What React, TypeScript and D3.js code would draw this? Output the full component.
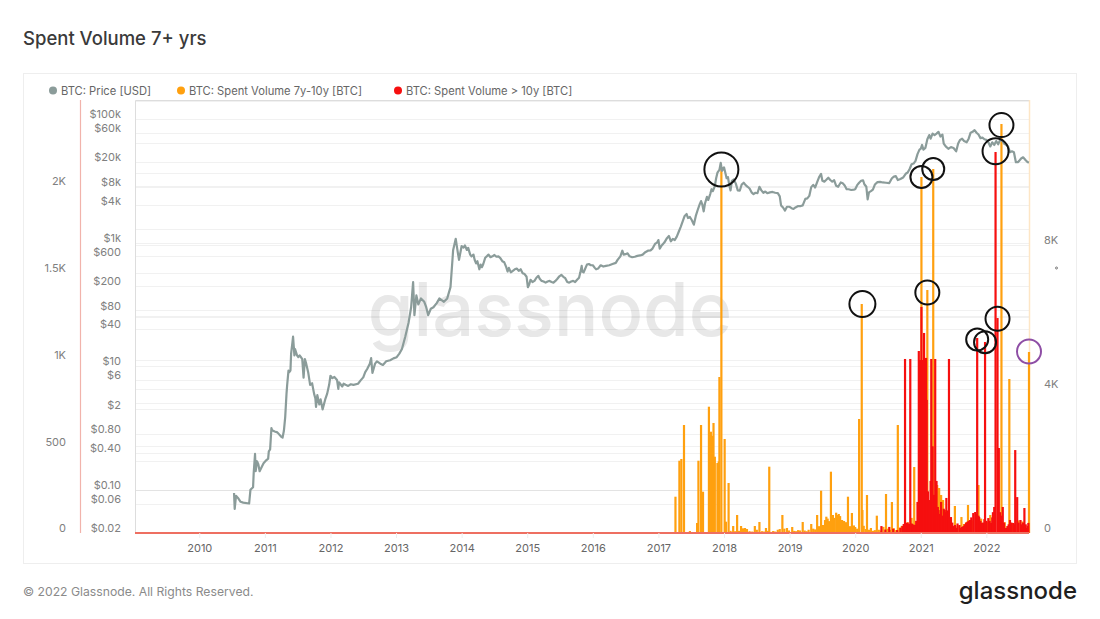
import * as d3 from "d3";
import React, { useEffect, useRef } from "react";

const FONT = "Inter, 'Noto Sans', sans-serif";

const yearTicks = d3.range(2010, 2023);
const priceTicks = [100000, 60000, 20000, 8000, 4000, 1000, 600, 200, 80, 40, 10, 6, 2, 0.8, 0.4, 0.1, 0.06, 0.02];
const leftTicks = [0, 500, 1000, 1500, 2000];
const rightTicks = [0, 4000, 8000];
const leftGrid = [250, 500, 750, 1000, 1250, 1500, 1750, 2000, 2250];
const rightGrid = [2000, 4000, 6000, 8000, 10000, 12000];

// BTC price [year, usd]
const priceEarly: [number, number][] = [
  [2010.53, 0.089], [2010.54, 0.049], [2010.56, 0.08], [2010.59, 0.074], [2010.63, 0.064], [2010.67, 0.062], [2010.76, 0.06],
  [2010.78, 0.1], [2010.82, 0.11], [2010.83, 0.19], [2010.85, 0.38], [2010.86, 0.2], [2010.88, 0.29], [2010.9, 0.26], [2010.92, 0.2],
  [2010.98, 0.27], [2011.02, 0.3], [2011.05, 0.32], [2011.06, 0.42], [2011.08, 0.45], [2011.1, 1.0], [2011.11, 0.92], [2011.15, 0.88],
  [2011.19, 0.85], [2011.25, 0.72], [2011.27, 0.7], [2011.29, 0.9], [2011.31, 1.5], [2011.33, 3.6], [2011.34, 5], [2011.36, 8.5],
  [2011.37, 8], [2011.39, 8.5], [2011.4, 16], [2011.42, 24], [2011.43, 30], [2011.45, 15], [2011.46, 19], [2011.49, 15], [2011.51, 14],
  [2011.53, 15], [2011.55, 14], [2011.57, 13], [2011.59, 6.5], [2011.61, 13], [2011.63, 11], [2011.66, 8], [2011.69, 5], [2011.72, 5.3],
  [2011.75, 3.6], [2011.77, 3], [2011.78, 2.2], [2011.8, 3.4], [2011.83, 2.4], [2011.85, 2.9], [2011.88, 2], [2011.92, 2.9], [2011.95, 3.6],
  [2011.98, 5], [2012.0, 7], [2012.03, 6.4], [2012.06, 6.7], [2012.1, 6], [2012.12, 4.3], [2012.13, 5.5], [2012.18, 4.7], [2012.2, 5.2],
  [2012.23, 5], [2012.27, 4.8], [2012.31, 5.1], [2012.35, 5], [2012.42, 5.2], [2012.46, 5.9], [2012.5, 6.6], [2012.53, 8], [2012.56, 9],
  [2012.6, 11], [2012.62, 13.5], [2012.64, 7.8], [2012.68, 11], [2012.71, 12], [2012.76, 11], [2012.8, 10.5], [2012.85, 12], [2012.91, 12.5],
  [2012.96, 13.4], [2013.01, 14], [2013.05, 16], [2013.09, 19], [2013.14, 30], [2013.19, 50], [2013.23, 90], [2013.26, 230], [2013.28, 67],
  [2013.31, 140], [2013.34, 100], [2013.38, 125], [2013.43, 110], [2013.46, 90], [2013.49, 67], [2013.53, 85], [2013.57, 90], [2013.62, 105],
  [2013.66, 125], [2013.73, 110], [2013.78, 125], [2013.83, 190], [2013.86, 525], [2013.87, 750], [2013.91, 1150], [2013.94, 710],
  [2013.96, 525],
];
const priceMiddle: [number, number][] = [
  [2014.0, 880], [2014.03, 830], [2014.05, 900], [2014.08, 760], [2014.1, 820], [2014.13, 640], [2014.15, 600], [2014.18, 640], [2014.2, 520],
  [2014.22, 460], [2014.24, 500], [2014.27, 370], [2014.29, 440], [2014.31, 400], [2014.33, 450], [2014.36, 570], [2014.39, 610], [2014.41, 640],
  [2014.44, 580], [2014.47, 600], [2014.5, 630], [2014.53, 590], [2014.56, 600], [2014.59, 560], [2014.62, 500], [2014.65, 480], [2014.68, 400],
  [2014.7, 340], [2014.72, 390], [2014.75, 330], [2014.78, 350], [2014.81, 370], [2014.84, 380], [2014.87, 350], [2014.9, 370], [2014.93, 320],
  [2014.96, 310], [2014.99, 280], [2015.01, 190], [2015.03, 210], [2015.05, 250], [2015.08, 230], [2015.11, 240], [2015.14, 270], [2015.17, 290],
  [2015.19, 260], [2015.22, 240], [2015.25, 235], [2015.28, 225], [2015.31, 235], [2015.34, 240], [2015.37, 230], [2015.4, 225], [2015.43, 240],
  [2015.46, 260], [2015.49, 285], [2015.52, 300], [2015.55, 280], [2015.58, 265], [2015.61, 230], [2015.64, 225], [2015.67, 235], [2015.7, 240],
  [2015.73, 230], [2015.76, 250], [2015.79, 270], [2015.81, 330], [2015.83, 420], [2015.84, 340], [2015.86, 330], [2015.88, 370], [2015.91, 440],
  [2015.94, 450], [2015.97, 430], [2016.0, 430], [2016.03, 390], [2016.05, 370], [2016.08, 380], [2016.12, 430], [2016.16, 410], [2016.2, 420],
  [2016.25, 430], [2016.3, 450], [2016.35, 470], [2016.38, 530], [2016.42, 600], [2016.45, 740], [2016.47, 640], [2016.5, 650], [2016.53, 670],
  [2016.56, 600], [2016.6, 580], [2016.64, 590], [2016.68, 610], [2016.72, 620], [2016.76, 640], [2016.8, 700], [2016.84, 740], [2016.88, 750],
  [2016.91, 800], [2016.95, 960], [2016.98, 1000], [2017.0, 1100], [2017.02, 800], [2017.05, 900], [2017.09, 1000], [2017.13, 1180], [2017.16, 1280],
  [2017.19, 1050], [2017.22, 1150], [2017.25, 1100], [2017.28, 1250], [2017.31, 1500], [2017.34, 1800], [2017.37, 2200], [2017.4, 2700],
  [2017.43, 2900], [2017.45, 2500], [2017.48, 2600], [2017.51, 2300], [2017.54, 1950], [2017.57, 2700], [2017.6, 3400], [2017.63, 4200],
  [2017.65, 4700], [2017.67, 4100], [2017.69, 3200], [2017.71, 4300], [2017.74, 5500], [2017.76, 4900], [2017.79, 6100], [2017.81, 7300],
  [2017.83, 6800], [2017.86, 8200], [2017.88, 11000], [2017.9, 13500], [2017.93, 15000], [2017.95, 19500], [2017.97, 14500],
];
const priceLate: [number, number][] = [
  [2018.0, 16500], [2018.02, 13500], [2018.04, 11000], [2018.06, 11500], [2018.08, 8500], [2018.1, 7000], [2018.12, 10000], [2018.15, 10500],
  [2018.18, 9000], [2018.21, 7000], [2018.24, 6900], [2018.27, 8700], [2018.3, 9300], [2018.33, 8500], [2018.36, 8000], [2018.39, 7500],
  [2018.42, 6500], [2018.45, 6100], [2018.48, 6400], [2018.51, 6300], [2018.54, 8000], [2018.57, 7000], [2018.6, 6400], [2018.63, 6700],
  [2018.66, 6300], [2018.7, 6500], [2018.74, 6600], [2018.78, 6400], [2018.82, 6300], [2018.85, 5600], [2018.87, 4000], [2018.9, 3700],
  [2018.93, 3300], [2018.96, 3800], [2019.0, 3800], [2019.03, 3600], [2019.06, 3500], [2019.09, 3700], [2019.13, 3900], [2019.17, 3900],
  [2019.2, 4000], [2019.24, 5100], [2019.27, 5200], [2019.3, 5700], [2019.33, 7900], [2019.36, 8600], [2019.39, 7800], [2019.42, 9500],
  [2019.45, 11500], [2019.48, 12900], [2019.5, 10000], [2019.53, 9700], [2019.56, 10400], [2019.59, 11200], [2019.62, 10300], [2019.65, 9700],
  [2019.68, 10200], [2019.71, 8300], [2019.74, 8000], [2019.78, 9400], [2019.81, 9100], [2019.84, 8400], [2019.87, 7300], [2019.9, 7300],
  [2019.94, 7100], [2019.98, 7200], [2020.0, 7300], [2020.03, 8500], [2020.06, 9300], [2020.09, 10000], [2020.12, 10200], [2020.14, 8800],
  [2020.17, 8000], [2020.19, 5000], [2020.21, 6500], [2020.24, 6800], [2020.27, 7200], [2020.3, 8700], [2020.34, 9500], [2020.38, 9600],
  [2020.42, 9400], [2020.47, 9300], [2020.52, 9200], [2020.56, 11000], [2020.59, 11700], [2020.62, 11900], [2020.65, 10300], [2020.69, 10700],
  [2020.73, 11300], [2020.77, 13000], [2020.8, 13600], [2020.83, 15500], [2020.86, 18500], [2020.89, 19000], [2020.92, 21000], [2020.95, 27000],
  [2020.98, 32000], [2021.0, 33000], [2021.02, 38000], [2021.04, 32000], [2021.07, 34000], [2021.1, 47000], [2021.13, 55000], [2021.15, 48000],
  [2021.18, 58000], [2021.21, 55000], [2021.24, 58000], [2021.27, 62000], [2021.3, 52000], [2021.33, 56000], [2021.35, 40000], [2021.38, 36000],
  [2021.42, 33000], [2021.46, 35000], [2021.5, 34000], [2021.54, 30000], [2021.57, 40000], [2021.6, 46000], [2021.63, 48000], [2021.66, 44000],
  [2021.7, 42000], [2021.73, 48000], [2021.76, 60000], [2021.79, 62000], [2021.82, 66000], [2021.85, 60000], [2021.88, 56000], [2021.91, 49000],
  [2021.94, 50000], [2021.97, 47000], [2022.0, 46000], [2022.03, 42000], [2022.06, 36000], [2022.09, 42000], [2022.12, 38000], [2022.15, 44000],
  [2022.18, 39000], [2022.21, 46000], [2022.24, 45000], [2022.27, 40000], [2022.3, 38000], [2022.33, 36000], [2022.36, 29000], [2022.39, 30000],
  [2022.42, 29000], [2022.45, 20000], [2022.48, 20000], [2022.5, 21000], [2022.53, 23000], [2022.56, 24000], [2022.6, 21500], [2022.63, 20000],
  [2022.65, 19800],
];

// Spent volume 7y-10y [year, btc], right axis
const orangeSpikes: [number, number][] = [
  [2017.26, 1008], [2017.32, 2008], [2017.35, 2056], [2017.39, 3000], [2017.48, 55], [2017.59, 278], [2017.61, 2008], [2017.65, 3000], [2017.68, 1147],
  [2017.77, 3508], [2017.79, 2700], [2017.8, 2814], [2017.82, 2700], [2017.84, 3056], [2017.86, 2119], [2017.9, 1944], [2017.92, 1990], [2017.93, 4333],
  [2017.96, 10167], [2018.01, 2611], [2018.03, 314], [2018.07, 1389], [2020.06, 3167], [2020.1, 6361], [2020.11, 639], [2020.18, 1056],
  [2020.47, 1083], [2020.56, 861], [2020.65, 3000], [2020.9, 1833], [2021.01, 9889], [2021.1, 6750], [2021.19, 10111],
  [2021.25, 1333], [2021.28, 1250], [2021.31, 1056], [2021.34, 917], [2021.37, 639], [2021.52, 750], [2021.62, 444], [2021.72, 778], [2021.88, 1333],
  [2022.23, 11361], [2022.35, 4278], [2022.65, 5028],
  [2018.69, 1842], [2018.89, 500], [2019.42, 500], [2019.48, 1175], [2019.63, 1703], [2019.89, 1008],
];
const orangeLow: [number, number][] = [
  [2018.1, 60], [2018.14, 194], [2018.17, 50], [2018.2, 500], [2018.23, 60], [2018.26, 194], [2018.29, 130], [2018.32, 139], [2018.35, 110], [2018.39, 50],
  [2018.43, 40], [2018.47, 194], [2018.5, 90], [2018.54, 306], [2018.58, 50], [2018.61, 40], [2018.64, 139], [2018.67, 60], [2018.72, 30], [2018.75, 55],
  [2018.78, 40], [2018.82, 90], [2018.85, 110], [2018.92, 120], [2018.96, 139], [2018.99, 70], [2019.04, 167], [2019.07, 60], [2019.1, 50], [2019.13, 80],
  [2019.16, 70], [2019.2, 306], [2019.23, 70], [2019.26, 50], [2019.29, 90], [2019.33, 250], [2019.36, 120], [2019.39, 100], [2019.45, 190], [2019.51, 222],
  [2019.54, 360], [2019.56, 453], [2019.58, 400], [2019.6, 330], [2019.66, 500], [2019.68, 420], [2019.71, 564], [2019.73, 500], [2019.75, 528], [2019.77, 470],
  [2019.8, 361], [2019.83, 333], [2019.86, 300], [2019.92, 190], [2019.95, 556], [2019.98, 210], [2020.0, 167], [2020.03, 120], [2020.13, 200], [2020.16, 110],
  [2020.21, 90], [2020.24, 139], [2020.27, 60], [2020.3, 80], [2020.33, 481], [2020.36, 90], [2020.39, 70], [2020.43, 170], [2020.5, 120], [2020.53, 90],
  [2020.59, 130], [2020.62, 80], [2020.68, 150], [2020.71, 200], [2020.8, 300], [2020.86, 420], [2021.42, 300], [2021.46, 400], [2021.56, 200],
  [2021.66, 250], [2021.69, 300], [2021.78, 350], [2021.92, 400], [2022.01, 300], [2022.06, 500], [2022.28, 300], [2022.39, 280], [2022.49, 350], [2022.55, 320],
];

// Spent volume > 10y [year, btc], left axis
const redSpikes: [number, number][] = [
  [2020.76, 1003], [2020.84, 1003], [2020.95, 179], [2020.97, 1049], [2020.99, 997], [2021.01, 1303], [2021.03, 997], [2021.05, 1153], [2021.08, 1009],
  [2021.09, 767], [2021.13, 190], [2021.16, 1003], [2021.18, 500], [2021.22, 1003], [2021.24, 300], [2021.27, 132], [2021.31, 179], [2021.36, 132], [2021.39, 202],
  [2021.43, 1003], [2021.86, 1124], [2021.98, 1101], [2022.12, 150], [2022.14, 2196], [2022.17, 1239], [2022.19, 490], [2022.25, 150],
  [2022.44, 478], [2022.47, 207], [2022.58, 144],
];
const redLow: [number, number][] = [
  [2020.4, 40], [2020.46, 20], [2020.52, 35], [2020.58, 25], [2020.64, 17], [2020.69, 30], [2020.72, 40], [2020.74, 52], [2020.78, 58], [2020.8, 60],
  [2020.82, 52], [2020.86, 55], [2020.87, 52], [2020.89, 48], [2020.91, 46], [2020.93, 70], [2021.07, 200], [2021.11, 240], [2021.15, 300], [2021.2, 220],
  [2021.26, 150], [2021.29, 110], [2021.33, 100], [2021.35, 140], [2021.38, 120], [2021.41, 130], [2021.45, 80], [2021.46, 92], [2021.48, 60], [2021.5, 40],
  [2021.52, 46], [2021.54, 30], [2021.56, 55], [2021.59, 46], [2021.61, 30], [2021.63, 35], [2021.65, 40], [2021.67, 50], [2021.69, 58], [2021.71, 65],
  [2021.73, 70], [2021.75, 75], [2021.77, 90], [2021.8, 115], [2021.83, 121], [2021.85, 110], [2021.88, 100], [2021.89, 92], [2021.91, 70], [2021.93, 58],
  [2021.95, 60], [2021.97, 80], [2022.0, 70], [2022.03, 86], [2022.05, 70], [2022.07, 58], [2022.09, 90], [2022.1, 120], [2022.21, 120], [2022.23, 100],
  [2022.27, 60], [2022.3, 29], [2022.32, 40], [2022.34, 50], [2022.36, 75], [2022.38, 60], [2022.41, 58], [2022.42, 50], [2022.49, 60], [2022.52, 75],
  [2022.54, 50], [2022.56, 60], [2022.6, 50], [2022.61, 29], [2022.63, 40], [2022.64, 58],
];

// Hand drawn circles around the tips of the spikes
const orangeCircleYears = [2017.96, 2020.11, 2021.01, 2021.1, 2021.19, 2022.23, 2022.65];
const orangeCircleValues = [10100, 6360, 9890, 6680, 10110, 11330, 5040];
const orangeCircleSizes = [17, 13, 11, 12, 11, 12, 12];
const orangeCircleStrokes = ["#111", "#111", "#111", "#111", "#111", "#111", "#8e4ea5"];
const redCircleYears = [2021.86, 2021.98, 2022.14, 2022.17];
const redCircleValues = [1115, 1100, 2200, 1235];
const redCircleSizes = [11, 11, 13, 12];

const legendNames = ["BTC: Price [USD]", "BTC: Spent Volume 7y-10y [BTC]", "BTC: Spent Volume > 10y [BTC]"];

const App: React.FC = () => {
  const ref = useRef<SVGSVGElement | null>(null);

  useEffect(() => {
    if (!ref.current) return;
    const svg = d3.select(ref.current);
    svg.selectAll("*").remove();

    const top = 100;
    const bottom = 533;
    const left = 135;
    const right = 1029;

    const x = d3.scaleLinear().domain([2009.02, 2022.65]).range([left, right]);
    const price = d3.scaleLog().domain([0.02, 100000]).range([bottom, 119]);
    const red = d3.scaleLinear().domain([0, 2500]).range([bottom, 99.25]);
    const orange = d3.scaleLinear().domain([0, 12000]).range([bottom, 101]);

    svg.style("font-family", FONT);

    // Card and page text
    svg.append("rect").attr("x", 23.5).attr("y", 73.5).attr("width", 1053).attr("height", 490)
      .attr("fill", "#fff").attr("stroke", "#eeeeee");
    svg.append("text").attr("x", 23).attr("y", 45).text("Spent Volume 7+ yrs")
      .attr("font-size", 18.5).attr("font-weight", 500).attr("fill", "#3a3a3a");
    svg.append("text").attr("x", 23).attr("y", 596).text("© 2022 Glassnode. All Rights Reserved.")
      .attr("font-size", 12.2).attr("fill", "#8a8a8a");
    svg.append("text").attr("x", 1077).attr("y", 599).attr("text-anchor", "end").text("glassnode")
      .attr("font-size", 24).attr("font-weight", 500).attr("fill", "#1f1f1f");

    // Watermark
    svg.append("text").attr("x", 550).attr("y", 336).attr("text-anchor", "middle").text("glassnode")
      .attr("font-size", 74).attr("font-weight", 500).attr("fill", "#e8e8e8");

    // Grid lines from all three axes
    const grid = svg.append("g").attr("stroke", "#000").attr("stroke-opacity", 0.055);
    const gridYs = [...priceTicks.map((d) => price(d)), ...leftGrid.map((d) => red(d)), ...rightGrid.map((d) => orange(d))];
    grid.selectAll("line").data(gridYs).join("line")
      .attr("x1", left).attr("x2", right)
      .attr("y1", (d) => Math.round(d) + 0.5).attr("y2", (d) => Math.round(d) + 0.5);

    // Plot frame
    svg.append("path").attr("d", `M${left + 0.5},${bottom}V${top + 0.5}H${right}`)
      .attr("fill", "none").attr("stroke", "#dddddd");
    svg.append("line").attr("x1", right + 0.5).attr("x2", right + 0.5).attr("y1", top).attr("y2", bottom)
      .attr("stroke", "#fde6c6").attr("stroke-width", 1.5);
    svg.append("line").attr("x1", 80.5).attr("x2", 80.5).attr("y1", top).attr("y2", bottom)
      .attr("stroke", "#f1b3ab").attr("stroke-width", 1.2);

    // Spent volume bars
    const barWidth = 2.2;
    svg.append("g").attr("fill", "#ffa00f").selectAll("rect").data([...orangeLow, ...orangeSpikes]).join("rect")
      .attr("x", (d) => x(d[0]) - barWidth / 2).attr("width", barWidth)
      .attr("y", (d) => orange(d[1]))
      .attr("height", (d) => bottom - orange(d[1]));
    svg.append("g").attr("fill", "#f60f0f").selectAll("rect").data([...redLow, ...redSpikes]).join("rect")
      .attr("x", (d) => x(d[0]) - barWidth / 2).attr("width", barWidth)
      .attr("y", (d) => red(d[1]))
      .attr("height", (d) => bottom - red(d[1]));

    // Red series sitting on zero
    svg.append("line").attr("x1", left).attr("x2", right).attr("y1", red(0)).attr("y2", red(0))
      .attr("stroke", "#ee6f61").attr("stroke-width", 2);

    // Price line
    const line = d3.line<[number, number]>().x((d) => x(d[0])).y((d) => price(d[1]));
    svg.append("path").datum([...priceEarly, ...priceMiddle, ...priceLate]).attr("d", line)
      .attr("fill", "none").attr("stroke", "#8b9c9a").attr("stroke-width", 2.2).attr("stroke-linejoin", "round");

    // Annotation circles
    const rings = svg.append("g").attr("fill", "none").attr("stroke-width", 2);
    rings.selectAll("circle.orange").data(orangeCircleYears).join("circle").attr("class", "orange")
      .attr("cx", (d) => x(d)).attr("cy", (_, i) => orange(orangeCircleValues[i]))
      .attr("r", (_, i) => orangeCircleSizes[i]).attr("stroke", (_, i) => orangeCircleStrokes[i]);
    rings.selectAll("circle.red").data(redCircleYears).join("circle").attr("class", "red")
      .attr("cx", (d) => x(d)).attr("cy", (_, i) => red(redCircleValues[i]))
      .attr("r", (_, i) => redCircleSizes[i]).attr("stroke", "#111");

    // Axes, the labels sit 5px above their grid line
    const styleAxis = (g: d3.Selection<SVGGElement, unknown, null, undefined>) => {
      g.select(".domain").remove();
      g.selectAll(".tick text").attr("dy", "-0.11em").attr("fill", "#808080").attr("font-size", 11).attr("font-family", FONT);
    };
    const priceLabel = (d: d3.NumberValue) => {
      const v = +d;
      if (v >= 1000) return `$${v / 1000}k`;
      if (v >= 1) return `$${v}`;
      return `$${v.toFixed(2)}`;
    };
    const kLabel = (d: d3.NumberValue) => (+d >= 1000 ? `${+d / 1000}K` : `${+d}`);

    svg.append("g").attr("transform", "translate(121,0)")
      .call(d3.axisLeft(price).tickValues(priceTicks).tickFormat(priceLabel).tickSize(0).tickPadding(0))
      .call(styleAxis);
    svg.append("g").attr("transform", "translate(66,0)")
      .call(d3.axisLeft(red).tickValues(leftTicks).tickFormat(kLabel).tickSize(0).tickPadding(0))
      .call(styleAxis);
    svg.append("g").attr("transform", "translate(1044,0)")
      .call(d3.axisRight(orange).tickValues(rightTicks).tickFormat(kLabel).tickSize(0).tickPadding(0))
      .call(styleAxis);
    const xAxis = svg.append("g").attr("transform", `translate(0,${bottom})`)
      .call(d3.axisBottom(x).tickValues(yearTicks).tickFormat(d3.format("d")).tickSize(5).tickPadding(6));
    xAxis.select(".domain").remove();
    xAxis.selectAll(".tick line").attr("stroke", "#eeeeee");
    xAxis.selectAll(".tick text").attr("fill", "#666").attr("font-size", 11).attr("font-family", FONT);

    // Legend
    const legendColors = ["#8b9c9a", "#ffa00f", "#f60f0f"];
    const legendX = [53, 181, 398];
    const legend = svg.append("g").selectAll("g").data(legendNames).join("g")
      .attr("transform", (_, i) => `translate(${legendX[i]},90.5)`);
    legend.append("circle").attr("r", 4).attr("fill", (_, i) => legendColors[i]);
    legend.append("text").attr("x", 8).attr("y", 4).text((d) => d).attr("font-size", 11.2).attr("fill", "#666");

    // Stray mark right of the chart
    svg.append("circle").attr("cx", 1056.5).attr("cy", 268).attr("r", 1).attr("fill", "none").attr("stroke", "#777");
  }, []);

  return (
    <svg ref={ref} width={1100} height={619} style={{ position: "absolute", left: 0, top: 0, background: "#fff" }} />
  );
};

export default App;
